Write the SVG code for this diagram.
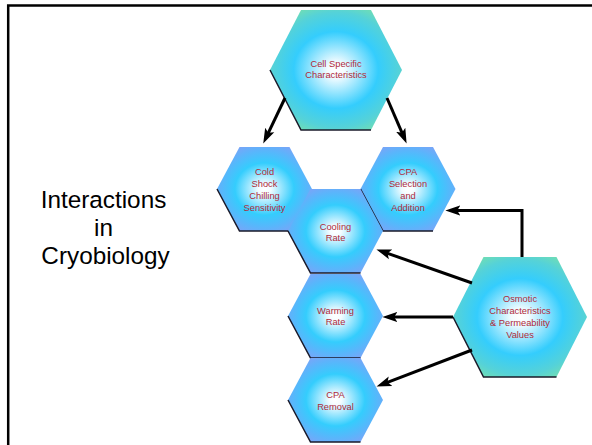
<svg xmlns="http://www.w3.org/2000/svg" xmlns:xlink="http://www.w3.org/1999/xlink" width="592" height="445" viewBox="0 0 592 445">
<style>
.lbl{font-family:"Liberation Sans",Arial,sans-serif;font-size:9.3px;fill:#b02a3a;text-anchor:middle}
.title{font-family:"Liberation Sans",Arial,sans-serif;font-size:24.3px;fill:#000;text-anchor:middle}
.edge{fill:none;stroke:#1a1a2a;stroke-width:1.5}
.conn{fill:none;stroke:#000;stroke-width:3;marker-end:url(#ah)}
</style>
<defs>
<radialGradient id="gs" cx="50%" cy="50%" r="62%">
<stop offset="0" stop-color="#ffffff"/>
<stop offset="0.1" stop-color="#f4fcff"/>
<stop offset="0.5" stop-color="#34cdfd"/>
<stop offset="0.75" stop-color="#5cb4fb"/>
<stop offset="1" stop-color="#8a9cf6"/>
</radialGradient>
<radialGradient id="gb" cx="50%" cy="50%" r="64%">
<stop offset="0" stop-color="#ffffff"/>
<stop offset="0.1" stop-color="#f4fcff"/>
<stop offset="0.5" stop-color="#34cdfd"/>
<stop offset="0.75" stop-color="#55d2d8"/>
<stop offset="1" stop-color="#84e69a"/>
</radialGradient>
<polygon id="hs" points="-47.5,0 -25,-42 25,-42 47.5,0 25,42 -25,42" fill="url(#gs)"/>
<polygon id="hb" points="-66,0 -35,-60 35,-60 66,0 35,60 -35,60" fill="url(#gb)"/>
<marker id="ah" markerUnits="userSpaceOnUse" markerWidth="15" markerHeight="12" viewBox="0 0 14 10" refX="5" refY="5" orient="auto">
<path d="M0,0.3 L14,5 L0,9.7 L3,5 z" fill="#000"/>
</marker>
</defs>
<rect x="8.2" y="5.5" width="600" height="460" fill="#fff" stroke="#000" stroke-width="2.5"/>
<g id="title">
<text class="title" x="103.5" y="208">Interactions</text>
<text class="title" x="103.5" y="236">in</text>
<text class="title" x="105.5" y="264">Cryobiology</text>
</g>
<g id="cell-specific" transform="translate(336,70)">
<use xlink:href="#hb"/>
<path class="edge" d="M-66,0 L-35,60 L35,60" stroke="#2a5a3a"/>
<text class="lbl" y="-3">Cell Specific</text>
<text class="lbl" y="8">Characteristics</text>
</g>
<g id="cold-shock" transform="translate(264.5,189)">
<use xlink:href="#hs"/>
<path class="edge" d="M-47.5,0 L-25,42 L25,42"/>
<text class="lbl" y="-14">Cold</text>
<text class="lbl" y="-2">Shock</text>
<text class="lbl" y="10">Chilling</text>
<text class="lbl" y="22">Sensitivity</text>
</g>
<g id="cpa-selection" transform="translate(408,189)">
<use xlink:href="#hs"/>
<path class="edge" d="M-47.5,0 L-25,42 L25,42"/>
<text class="lbl" y="-14">CPA</text>
<text class="lbl" y="-2">Selection</text>
<text class="lbl" y="10">and</text>
<text class="lbl" y="22">Addition</text>
</g>
<g id="cooling-rate" transform="translate(335.5,231)">
<use xlink:href="#hs"/>
<path class="edge" d="M-47.5,0 L-25,42 L25,42"/>
<text class="lbl" y="-1">Cooling</text>
<text class="lbl" y="10">Rate</text>
</g>
<g id="warming-rate" transform="translate(335.5,316)">
<use xlink:href="#hs"/>
<path class="edge" d="M-47.5,0 L-25,42 L25,42"/>
<text class="lbl" y="-2">Warming</text>
<text class="lbl" y="9">Rate</text>
</g>
<g id="cpa-removal" transform="translate(335.5,400)">
<use xlink:href="#hs"/>
<path class="edge" d="M-47.5,0 L-25,42 L25,42"/>
<text class="lbl" y="-2">CPA</text>
<text class="lbl" y="10">Removal</text>
</g>
<g id="osmotic" transform="translate(520,317)">
<polygon points="-67,0 -36.5,-60 36.5,-60 67,0 36.5,60 -36.5,60" fill="url(#gb)"/>
<path class="edge" d="M-67,0 L-36.5,60 L36.5,60" stroke="#2a5a3a"/>
<text class="lbl" y="-15">Osmotic</text>
<text class="lbl" y="-3">Characteristics</text>
<text class="lbl" y="9">&amp; Permeability</text>
<text class="lbl" y="21">Values</text>
</g>
<g id="connectors">
<path class="conn" d="M285,98 L267.4,134.8"/>
<path class="conn" d="M387,98 L402.8,134.7"/>
<path class="conn" d="M522,257 V210.5 H455"/>
<path class="conn" d="M472,283 L385.5,252.6"/>
<path class="conn" d="M453,317 L392,317"/>
<path class="conn" d="M472,350 L385.5,383.1"/>
</g>
</svg>
